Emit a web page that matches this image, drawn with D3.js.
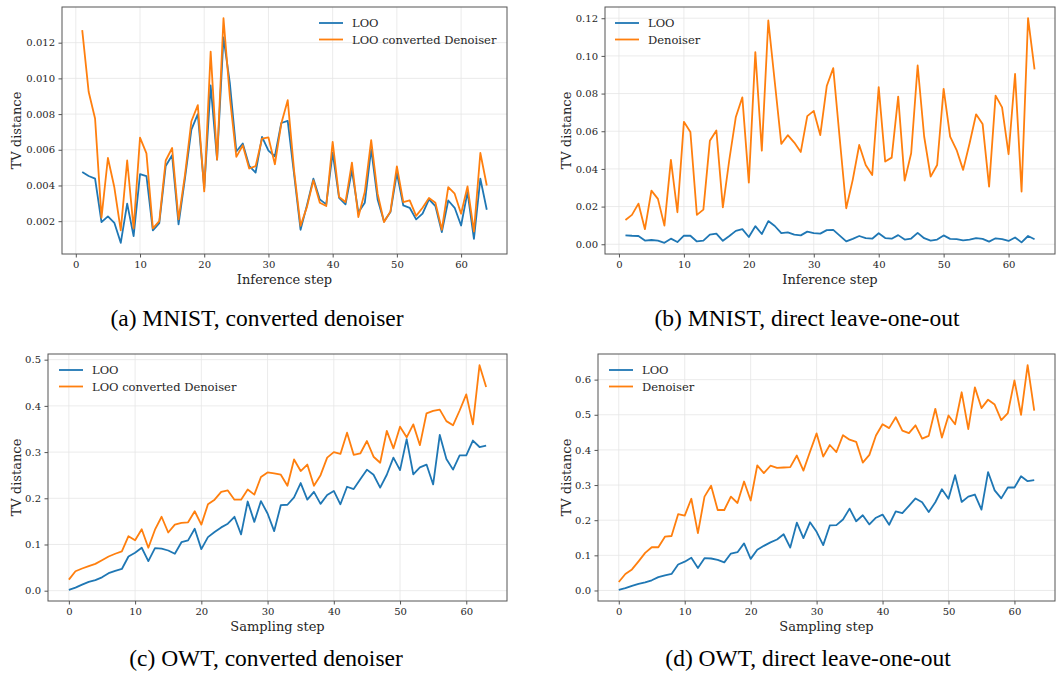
<!DOCTYPE html>
<html>
<head>
<meta charset="utf-8">
<script src="https://cdn.jsdelivr.net/npm/d3@7"></script>
<style>
  body { margin: 0; background: #fff; }
  svg text { font-family: "DejaVu Serif", serif; fill: #262626; }
</style>
</head>
<body>
<div id="chart"></div>
<script>
// MNIST: inference steps 1..64
const mnistSteps = d3.range(1, 65);
const mnistLoo = [4.76, 4.53, 4.38, 1.95, 2.27, 1.91, 0.79, 2.98, 1.16, 4.63,
  4.53, 1.48, 1.89, 5.09, 5.69, 1.82, 4.4, 7.13, 8.0, 3.85,
  9.6, 5.45, 12.3, 9.7, 5.9, 6.35, 5.1, 4.72, 6.72, 5.95,
  5.64, 7.5, 7.62, 4.6, 1.52, 2.9, 4.38, 3.22, 2.94, 5.84,
  3.3, 2.94, 4.85, 2.49, 3.03, 6.03, 3.22, 1.98, 2.51, 4.7,
  2.88, 2.75, 2.1, 2.42, 3.22, 2.85, 1.39, 3.16, 2.75, 1.76,
  3.63, 1.01, 4.38, 2.64].map(v => v / 1000);
const mnistConverted = [12.7, 9.25, 7.75, 2.2, 5.54, 3.9, 1.48, 5.4, 1.6, 6.68,
  5.8, 1.6, 2.0, 5.4, 6.1, 2.1, 4.6, 7.6, 8.5, 3.67,
  11.5, 5.45, 13.37, 8.9, 5.6, 6.25, 4.95, 5.08, 6.63, 6.69,
  5.19, 7.47, 8.78, 4.8, 1.74, 2.8, 4.29, 3.03, 2.85, 6.44,
  3.35, 3.07, 5.28, 2.23, 3.63, 6.54, 3.54, 1.95, 2.55, 5.07,
  3.07, 3.16, 2.3, 2.75, 3.3, 3.03, 1.52, 3.91, 3.54, 2.42,
  3.95, 1.42, 5.82, 4.0].map(v => v / 1000);
const mnistDenoiser = [1.29, 1.56, 2.16, 0.8, 2.85, 2.41, 0.99, 4.48, 1.7, 6.5,
  5.96, 1.56, 1.84, 5.49, 6.04, 1.96, 4.5, 6.76, 7.8, 3.27,
  10.2, 4.97, 11.88, 8.6, 5.33, 5.79, 5.4, 4.9, 6.8, 7.08,
  5.8, 8.4, 9.35, 5.6, 1.91, 3.42, 5.27, 4.21, 3.68, 8.34,
  4.39, 4.6, 7.84, 3.38, 4.83, 9.49, 5.72, 3.59, 4.21, 8.25,
  5.72, 5.0, 3.95, 5.36, 6.9, 6.39, 3.06, 7.89, 7.27, 4.78,
  9.04, 2.8, 12.0, 9.29].map(v => v / 100);

// OWT: sampling steps 0..63
const owtSteps = d3.range(0, 64);
const owtLoo = [0.002, 0.0065, 0.013, 0.019, 0.023, 0.029, 0.038, 0.043, 0.047, 0.074,
  0.082, 0.093, 0.064, 0.092, 0.091, 0.087, 0.080, 0.105, 0.109, 0.134,
  0.090, 0.116, 0.127, 0.137, 0.145, 0.160, 0.122, 0.193, 0.149, 0.194,
  0.167, 0.129, 0.185, 0.186, 0.202, 0.233, 0.197, 0.214, 0.188, 0.207,
  0.216, 0.187, 0.225, 0.220, 0.241, 0.262, 0.251, 0.223, 0.251, 0.288,
  0.261, 0.328, 0.252, 0.267, 0.273, 0.230, 0.337, 0.285, 0.262, 0.293,
  0.293, 0.325, 0.311, 0.314];
const owtConverted = [0.024, 0.042, 0.048, 0.053, 0.058, 0.066, 0.074, 0.080, 0.085, 0.118,
  0.109, 0.133, 0.093, 0.132, 0.160, 0.126, 0.143, 0.147, 0.148, 0.172,
  0.143, 0.187, 0.197, 0.214, 0.217, 0.197, 0.197, 0.219, 0.208, 0.246,
  0.256, 0.254, 0.251, 0.227, 0.284, 0.259, 0.273, 0.227, 0.250, 0.288,
  0.300, 0.296, 0.342, 0.294, 0.297, 0.324, 0.290, 0.277, 0.346, 0.308,
  0.355, 0.332, 0.360, 0.315, 0.384, 0.389, 0.392, 0.367, 0.358, 0.390,
  0.425, 0.360, 0.488, 0.441];
const owtDenoiser = [0.024, 0.047, 0.060, 0.083, 0.107, 0.123, 0.123, 0.153, 0.155, 0.217,
  0.213, 0.261, 0.163, 0.267, 0.298, 0.229, 0.229, 0.267, 0.249, 0.310,
  0.256, 0.356, 0.334, 0.355, 0.349, 0.350, 0.351, 0.384, 0.341, 0.395,
  0.447, 0.381, 0.414, 0.394, 0.442, 0.429, 0.423, 0.364, 0.386, 0.441,
  0.473, 0.462, 0.493, 0.455, 0.448, 0.470, 0.432, 0.440, 0.517, 0.435,
  0.498, 0.473, 0.564, 0.459, 0.578, 0.519, 0.543, 0.529, 0.485, 0.505,
  0.598, 0.500, 0.641, 0.512];

// Tick values
const xTicks = [0, 10, 20, 30, 40, 50, 60];
const yTicksA = [0.002, 0.004, 0.006, 0.008, 0.010, 0.012];
const yTicksB = [0.00, 0.02, 0.04, 0.06, 0.08, 0.10, 0.12];
const yTicksC = [0.0, 0.1, 0.2, 0.3, 0.4, 0.5];
const yTicksD = [0.0, 0.1, 0.2, 0.3, 0.4, 0.5, 0.6];

const blue = "#1f77b4", orange = "#ff7f0e";

const svg = d3.select("#chart").append("svg")
    .attr("width", 1056)
    .attr("height", 677);

const panels = [
  { box: [62, 7, 507, 254], steps: mnistSteps, yTicks: yTicksA, fmt: ".3f", xLabel: "Inference step", yLabX: 16,
    series: [[mnistLoo, blue, "LOO"], [mnistConverted, orange, "LOO converted Denoiser"]],
    legend: [319, 23], caption: "(a) MNIST, converted denoiser", capX: 257, capY: 326 },
  { box: [605, 7, 1055, 254], steps: mnistSteps, yTicks: yTicksB, fmt: ".2f", xLabel: "Inference step", yLabX: 566,
    series: [[mnistLoo, blue, "LOO"], [mnistDenoiser, orange, "Denoiser"]],
    legend: [615, 23], caption: "(b) MNIST, direct leave-one-out", capX: 807, capY: 326 },
  { box: [48, 354, 507, 601], steps: owtSteps, yTicks: yTicksC, fmt: ".1f", xLabel: "Sampling step", yLabX: 16,
    series: [[owtLoo, blue, "LOO"], [owtConverted, orange, "LOO converted Denoiser"]],
    legend: [59, 370], caption: "(c) OWT, converted denoiser", capX: 266, capY: 666 },
  { box: [598, 354, 1055, 601], steps: owtSteps, yTicks: yTicksD, fmt: ".1f", xLabel: "Sampling step", yLabX: 566,
    series: [[owtLoo, blue, "LOO"], [owtDenoiser, orange, "Denoiser"]],
    legend: [609, 370], caption: "(d) OWT, direct leave-one-out", capX: 808, capY: 666 }
];

// matplotlib-style 5% padding
function padded(ext) {
  const p = (ext[1] - ext[0]) * 0.05;
  return [ext[0] - p, ext[1] + p];
}

panels.forEach(p => {
  const [x0, y0, x1, y1] = p.box;
  const allY = p.series.flatMap(s => s[0]);
  const xScale = d3.scaleLinear().domain(padded(d3.extent(p.steps))).range([x0, x1]);
  const yScale = d3.scaleLinear().domain(padded(d3.extent(allY))).range([y1, y0]);

  const g = svg.append("g");

  // grid
  g.selectAll(".gx").data(xTicks).enter().append("line")
      .attr("x1", d => xScale(d)).attr("x2", d => xScale(d))
      .attr("y1", y0).attr("y2", y1)
      .attr("stroke", "#e6e6e6").attr("stroke-width", 0.8);
  g.selectAll(".gy").data(p.yTicks).enter().append("line")
      .attr("x1", x0).attr("x2", x1)
      .attr("y1", d => yScale(d)).attr("y2", d => yScale(d))
      .attr("stroke", "#e6e6e6").attr("stroke-width", 0.8);

  // axes
  const xAxis = g.append("g")
      .attr("transform", `translate(0,${y1})`)
      .call(d3.axisBottom(xScale).tickValues(xTicks).tickSize(3.5).tickSizeOuter(0).tickPadding(3.5));
  const yAxis = g.append("g")
      .attr("transform", `translate(${x0},0)`)
      .call(d3.axisLeft(yScale).tickValues(p.yTicks).tickFormat(d3.format(p.fmt)).tickSize(3.5).tickSizeOuter(0).tickPadding(3.5));
  [xAxis, yAxis].forEach(a => {
    a.select(".domain").remove();
    a.selectAll("line").attr("stroke", "#555");
    a.selectAll("text").style("font-family", "DejaVu Serif").style("font-size", "10px").attr("fill", "#262626");
  });

  // lines
  const line = d3.line()
      .x((d, i) => xScale(p.steps[i]))
      .y(d => yScale(d));
  p.series.forEach(([vals, color]) => {
    g.append("path")
        .datum(vals)
        .attr("d", line)
        .attr("fill", "none")
        .attr("stroke", color)
        .attr("stroke-width", 1.8)
        .attr("stroke-linejoin", "round");
  });

  // frame
  g.append("rect")
      .attr("x", x0).attr("y", y0)
      .attr("width", x1 - x0).attr("height", y1 - y0)
      .attr("fill", "none").attr("stroke", "#555").attr("stroke-width", 1);

  // labels
  g.append("text")
      .attr("x", (x0 + x1) / 2).attr("y", y1 + 30)
      .attr("text-anchor", "middle")
      .style("font-size", "13px")
      .text(p.xLabel);
  g.append("text")
      .attr("transform", `translate(${p.yLabX},${(y0 + y1) / 2}) rotate(-90)`)
      .attr("text-anchor", "middle")
      .attr("dy", "0.35em")
      .style("font-size", "13px")
      .text("TV distance");

  // legend
  const [lx, ly] = p.legend;
  p.series.forEach(([vals, color, name], i) => {
    const yy = ly + i * 16.5;
    g.append("line")
        .attr("x1", lx).attr("x2", lx + 24)
        .attr("y1", yy).attr("y2", yy)
        .attr("stroke", color).attr("stroke-width", 1.8);
    g.append("text")
        .attr("x", lx + 33).attr("y", yy)
        .attr("dy", "0.35em")
        .style("font-size", "11.5px")
        .text(name);
  });

  // caption
  svg.append("text")
      .attr("x", p.capX).attr("y", p.capY)
      .attr("text-anchor", "middle")
      .style("font-family", "'Liberation Serif', 'Times New Roman', serif")
      .style("font-size", "23.5px")
      .style("fill", "#000")
      .text(p.caption);
});
</script>
</body>
</html>
